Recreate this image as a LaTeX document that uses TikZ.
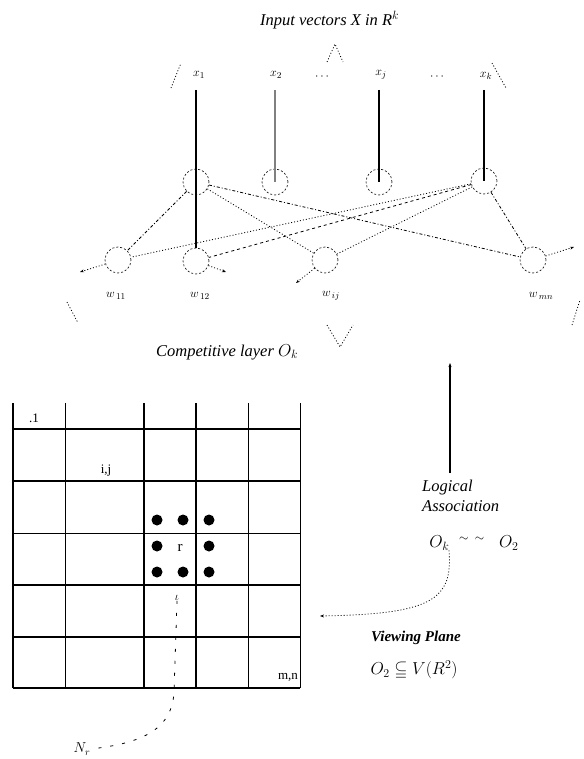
\documentclass[tikz,border=0pt]{standalone}
\usepackage{amssymb}
\usepackage{fontspec}
\setmainfont{Liberation Serif}
\usetikzlibrary{arrows.meta}
\begin{document}
\begin{tikzpicture}[x=1pt,y=-1pt,
  neuron/.style={circle,draw,dash pattern=on 2pt off 2pt,line width=0.6pt,minimum size=26pt,inner sep=0pt},
  lbl/.style={font=\fontsize{16.5}{20}\selectfont\itshape,inner sep=0pt},
  small/.style={font=\fontsize{13}{15}\selectfont,inner sep=0pt},
  dd/.style={line width=0.8pt,dash pattern=on 3pt off 2pt on 1pt off 2pt},
  dt/.style={line width=0.8pt,dash pattern=on 1pt off 2pt},
  ds/.style={line width=0.8pt,dash pattern=on 3pt off 3pt},
  tip/.style={-{Stealth[length=4pt,width=3pt]}},
  thk/.style={line width=1.1pt},
  thn/.style={line width=0.5pt},
  dot/.style={circle,fill,minimum size=11pt,inner sep=0pt}
]
\useasboundingbox (0,0) rectangle (583,759);

% title
\node[lbl,anchor=west] (title) at (260,20) {Input vectors X in R$^{k}$};
\draw[dt] (327,62) -- (335,44) -- (343,62);
\draw[dt] (171,88) -- (181,63);
\draw[dt] (492,63) -- (506,88);

% input labels
\node[small] (x1) at (199,75) {$x_1$};
\node[small] (x2) at (276,75) {$x_2$};
\node[small] (xd1) at (322,77) {$\cdots$};
\node[small] (xj) at (381,75) {$x_j$};
\node[small] (xd2) at (437,77) {$\cdots$};
\node[small] (xk) at (486,76) {$x_k$};
\coordinate (ltop) at (0,90);

% first layer circles
\node[neuron] (a1) at (196,182) {};
\node[neuron] (a2) at (275,182) {};
\node[neuron] (aj) at (379,182) {};
\node[neuron] (ak) at (484,181) {};

% competitive layer circles
\node[neuron] (b11) at (118,260) {};
\node[neuron] (b12) at (196,261) {};
\node[neuron] (bij) at (325,260) {};
\node[neuron] (bmn) at (533,260) {};

% vertical input lines
\draw[thk] (a1 |- ltop) -- (a1.center) -- (b12.north);
\draw[thk,gray] (a2 |- ltop) -- (a2.center);
\draw[thk] (aj |- ltop) -- (aj.center);
\draw[thk] (ak |- ltop) -- (ak.center);

% connections
\draw[dd] (a1) -- (b11);
\draw[dt] (a1) -- (bij);
\draw[dd] (a1) -- (bmn);
\draw[dt] (ak) -- (b11);
\draw[ds] (ak) -- (b12);
\draw[dt] (ak) -- (bij);
\draw[dd] (ak) -- (bmn);

% output stubs
\coordinate (o11) at (80,272);
\coordinate (o12) at (226,272);
\coordinate (oij) at (296,283);
\coordinate (omn) at (574,247);
\draw[dt,tip] (b11) -- (o11);
\draw[dt,tip] (b12) -- (o12);
\draw[dt,tip] (bij) -- (oij);
\draw[dt,tip] (bmn) -- (omn);

% w labels
\node[small] (w11) at (116,296) {$w_{\,11}$};
\node[small] (w12) at (200,296) {$w_{\,12}$};
\node[small] (wij) at (331,296) {$w_{\,ij}$};
\node[small] (wmn) at (541,296) {$w_{\,mn}$};

% lower brackets
\draw[dt] (67,302) -- (78,323);
\draw[dt] (572,325) -- (580,300);
\draw[dt] (327,325) -- (340,347) -- (353,325);
\node[lbl,anchor=west] (comp) at (156,352) {Competitive layer $O_k$};

% logical association
\coordinate (upA) at (450,473);
\coordinate (upB) at (450,363);
\draw[thk,tip] (upA) -- (upB);
\node[lbl,align=left,anchor=north west] (logic) at (422,480) {Logical\\Association};
\node[lbl] (assoc) at (474,543) {$O_k\;\;{}^{\sim\;\;\sim}\;\;\;O_2$};
\coordinate (vp) at (320,616);
\draw[dt,tip] ([xshift=-25pt]assoc.south) .. controls (453,600) and (432,614) .. (vp);
\node[font=\fontsize{15}{17}\selectfont\bfseries\itshape,inner sep=0pt] (vpl) at (416,638) {Viewing Plane};
\node[lbl] (vpf) at (414,670) {$O_2 \subseteqq V(R^{2})$};

% grid
\foreach \x/\w in {13/thk,65/thn,144/thk,196/thk,248/thn,300/thn}
  \draw[\w] (\x,403) -- (\x,688);
\foreach \y/\w in {429/thk,481/thk,533/thn,585/thk,637/thk,688/thk}
  \draw[\w] (13,\y) -- (300,\y);

\node[dot] (d1) at (157,520) {};
\node[dot] (d2) at (183,520) {};
\node[dot] (d3) at (209,520) {};
\node[dot] (d4) at (157,546) {};
\node[dot] (d5) at (209,546) {};
\node[dot] (d6) at (157,572) {};
\node[dot] (d7) at (183,572) {};
\node[dot] (d8) at (209,572) {};

\node[small] (l11) at (34,418) {.1};
\node[small] (lij) at (106,471) {i,j};
\node[font=\fontsize{15}{17}\selectfont,inner sep=0pt] (lr) at (180,548) {r};
\node[small] (lmn) at (288,677) {m,n};
\node[small] (lt) at (177,598) {$\iota$};
\node[small,font=\fontsize{14}{16}\selectfont] (Nr) at (82,749) {$N_r$};
\draw[line width=0.8pt,dash pattern=on 3pt off 9pt] (lt.south) -- (174,692) .. controls (172,728) and (145,743) .. (Nr.east);
\end{tikzpicture}
\end{document}
